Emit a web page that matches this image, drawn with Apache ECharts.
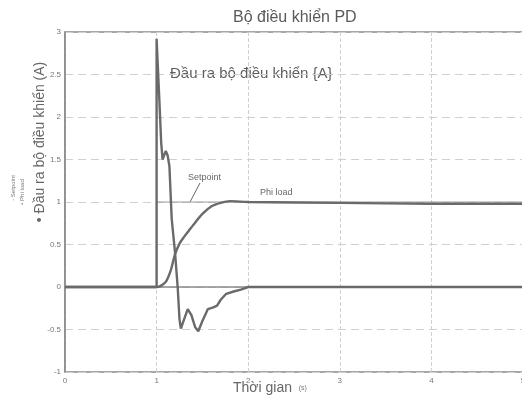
<!DOCTYPE html>
<html>
<head>
<meta charset="utf-8">
<title>Bộ điều khiển PD</title>
<script src="https://cdn.jsdelivr.net/npm/echarts@6/dist/echarts.min.js"></script>
<style>
	html, body { margin: 0; padding: 0; background: #fff; }
	#pd_chart { width: 522px; height: 399px; }
</style>
</head>
<body>
<div id="pd_chart"></div>
<script>
// du lieu doc tu hinh
var outTime  = [0, 1.0, 1.0, 1.01, 1.03, 1.05, 1.065, 1.08, 1.1, 1.12, 1.14, 1.165, 1.2, 1.23, 1.25, 1.265, 1.3, 1.34, 1.38, 1.42, 1.455, 1.5, 1.56, 1.62, 1.66, 1.7, 1.76, 1.85, 1.92, 2.0, 5];
var outValue = [0, 0, 2.92, 2.9, 2.2, 1.7, 1.5, 1.52, 1.6, 1.55, 1.42, 0.8, 0.42, 0.0, -0.38, -0.49, -0.38, -0.26, -0.33, -0.47, -0.52, -0.4, -0.26, -0.24, -0.22, -0.15, -0.08, -0.05, -0.03, 0, 0];

var loadTime  = [0, 1.0, 1.04, 1.1, 1.15, 1.2, 1.25, 1.3, 1.35, 1.4, 1.5, 1.6, 1.7, 1.8, 2.0, 3.0, 4.0, 5.0];
var loadValue = [0, 0, 0.01, 0.06, 0.18, 0.38, 0.51, 0.59, 0.66, 0.73, 0.86, 0.95, 0.99, 1.01, 1.0, 0.99, 0.98, 0.98];

var setTime  = [0, 1.0, 1.0, 5.0];
var setValue = [0, 0, 1, 1];

var xRange = [0, 5];
var yRange = [-1, 3];

var PdChart = {

	init: function () {
		this.chart = echarts.init(document.getElementById('pd_chart'), null, { renderer: 'canvas' });
		this.render();
	},

	// ghep [x, y]
	pairs: function (xs, ys) {
		var arr = [];
		for (var i = 0; i < xs.length; i++) {
			arr.push([xs[i], ys[i]]);
		}
		return arr;
	},

	render: function () {
		var textGray = '#5a5a5a';
		var lineGray = '#6a6a6a';
		var option = {
			backgroundColor: '#ffffff',
			animation: false,
			title: {
				text: 'Bộ điều khiển PD',
				left: 228,
				top: 5,
				textStyle: { color: textGray, fontSize: 16, fontWeight: 'normal', fontFamily: 'Liberation Sans' }
			},
			grid: {
				left: 65, right: -1, top: 32, bottom: 27,
				outerBoundsMode: 'none',
				containLabel: false,
				show: true, borderColor: '#8a8a8a', borderWidth: 1.5
			},
			xAxis: {
				type: 'value',
				min: xRange[0], max: xRange[1], interval: 1,
				axisLine: { show: true, lineStyle: { color: '#8a8a8a', width: 1.5 } },
				axisTick: { show: false },
				axisLabel: { color: '#777', fontSize: 8, margin: 5 },
				splitLine: { show: true, lineStyle: { color: '#d0d0d0', type: 'dashed', width: 1 } }
			},
			yAxis: {
				type: 'value',
				min: yRange[0], max: yRange[1], interval: 0.5,
				axisLine: { show: true, lineStyle: { color: '#8a8a8a', width: 1.5 } },
				axisTick: { show: false },
				axisLabel: { color: '#777', fontSize: 8, margin: 4 },
				splitLine: { show: true, lineStyle: { color: '#d0d0d0', type: [8, 5], width: 1 } }
			},
			series: [
				{
					name: 'Setpoint',
					type: 'line',
					showSymbol: false,
					data: this.pairs(setTime, setValue),
					lineStyle: { color: '#9a9a9a', width: 1 },
					z: 2
				},
				{
					name: 'Phi load',
					type: 'line',
					showSymbol: false,
					smooth: 0.3,
					data: this.pairs(loadTime, loadValue),
					lineStyle: { color: lineGray, width: 2.4 },
					z: 3
				},
				{
					name: 'Đầu ra bộ điều khiển',
					type: 'line',
					showSymbol: false,
					data: this.pairs(outTime, outValue),
					lineStyle: { color: lineGray, width: 2.4 },
					z: 4
				}
			],
			graphic: [
				// nhan truc y
				{
					type: 'text', x: 40, y: 142, rotation: Math.PI / 2,
					style: { text: '• Đầu ra bộ điều khiển (A)', fill: '#666', fontSize: 14, align: 'center', verticalAlign: 'middle', fontFamily: 'Liberation Sans' }
				},
				{
					type: 'text', x: 13, y: 188, rotation: Math.PI / 2,
					style: { text: '- Setpoint', fill: '#777', fontSize: 6, align: 'center', verticalAlign: 'middle' }
				},
				{
					type: 'text', x: 22, y: 192, rotation: Math.PI / 2,
					style: { text: '• Phi load', fill: '#777', fontSize: 6, align: 'center', verticalAlign: 'middle' }
				},
				// nhan truc x
				{
					type: 'text', left: 233, top: 381,
					style: { rich: { a: { fontSize: 14, fill: '#666', fontFamily: 'Liberation Sans' }, b: { fontSize: 7, fill: '#777' } }, text: '{a|Thời gian}  {b|(s)}' }
				},
				// chu thich trong do thi
				{
					type: 'text', left: 170, top: 66,
					style: { text: 'Đầu ra bộ điều khiển {A}', fill: '#5e5e5e', fontSize: 15, fontFamily: 'Liberation Sans' }
				},
				{
					type: 'text', left: 188, top: 173,
					style: { text: 'Setpoint', fill: '#666', fontSize: 9 }
				},
				{
					type: 'line', shape: { x1: 200, y1: 183, x2: 190, y2: 202 },
					style: { stroke: '#666', lineWidth: 1 }
				},
				{
					type: 'text', left: 260, top: 188,
					style: { text: 'Phi load', fill: '#666', fontSize: 9 }
				}
			]
		};
		this.chart.setOption(option);
	}
};

PdChart.init();
</script>
</body>
</html>
